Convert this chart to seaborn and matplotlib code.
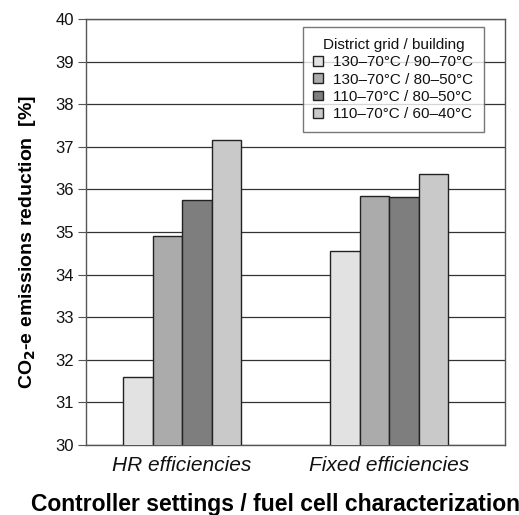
import pandas as pd
import matplotlib.pyplot as plt
import seaborn as sns

categories = ["HR efficiencies", "Fixed efficiencies"]
series = ["130\u201370\u00b0C / 90\u201370\u00b0C", "130\u201370\u00b0C / 80\u201350\u00b0C",
          "110\u201370\u00b0C / 80\u201350\u00b0C", "110\u201370\u00b0C / 60\u201340\u00b0C"]
hr_values = [31.6, 34.9, 35.75, 37.15]
fixed_values = [34.55, 35.85, 35.82, 36.37]
colors = ["#e2e2e2", "#ababab", "#7e7e7e", "#c9c9c9"]

rows = []
for s, a, b in zip(series, hr_values, fixed_values):
    rows.append({"cat": categories[0], "series": s, "val": a})
    rows.append({"cat": categories[1], "series": s, "val": b})
df = pd.DataFrame(rows)

sns.set_style("white")
plt.rcParams["font.family"] = ["Liberation Sans", "DejaVu Sans"]
plt.rcParams["text.color"] = "#111111"
plt.rcParams["axes.labelcolor"] = "#111111"
plt.rcParams["xtick.color"] = "#111111"
plt.rcParams["ytick.color"] = "#111111"

fig = plt.figure(figsize=(5.19, 5.15), dpi=100)
ax = fig.add_axes([0.166, 0.136, 0.807, 0.827])

sns.barplot(data=df, x="cat", y="val", hue="series", hue_order=series, order=categories,
            palette=colors, width=0.57, edgecolor="#222222", linewidth=1.0, ax=ax,
            zorder=3)

ax.set_xlim(-0.464, 1.56)
ax.set_ylim(30, 40)
ax.set_yticks(range(30, 41))
ax.yaxis.grid(True, color="#333333", linewidth=0.9, zorder=0)
ax.set_axisbelow(True)
for sp in ax.spines.values():
    sp.set_color("#555555")
    sp.set_linewidth(1.0)
ax.tick_params(axis="y", direction="out", length=6, color="#555555", labelsize=12, pad=3, left=True)
ax.tick_params(axis="x", length=0, labelsize=15, pad=8)
for t in ax.get_xticklabels():
    t.set_fontstyle("italic")

ax.set_xlabel("Controller settings / fuel cell characterization", fontsize=16.5,
              fontweight="bold", color="black")
ax.xaxis.set_label_coords(0.451, -0.113)
ax.set_ylabel("CO$_\\mathbf{2}$-e emissions reduction  [%]", fontsize=14,
              fontweight="bold", color="black")
ax.yaxis.set_label_coords(-0.115, 0.477)

leg = ax.legend(title="District grid / building", loc="upper right",
                bbox_to_anchor=(0.95, 0.981), borderaxespad=0,
                fontsize=11, title_fontsize=11,
                frameon=True, fancybox=False, edgecolor="#555555",
                handlelength=0.6, handleheight=0.6, handletextpad=0.7,
                labelspacing=0.22, borderpad=0.7)
leg.get_frame().set_linewidth(1.0)
leg.get_frame().set_facecolor("white")
leg.set_zorder(5)

fig.savefig("out.png", dpi=100)
